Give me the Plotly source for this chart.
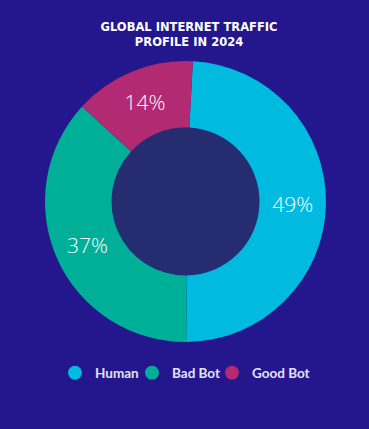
import plotly.graph_objects as go

# Data
labels = ["Human", "Bad Bot", "Good Bot"]
values = [49, 37, 14]
colors = ["#00BAE0", "#00AF98", "#B12A72"]
title_text = "GLOBAL INTERNET TRAFFIC<br>PROFILE IN 2024"

W, H = 369, 429
cx, cy, R, r_in = 185.5, 201.5, 140.5, 74.0
legend_symbol_px = [75, 152, 232]  # horizontal placement of each legend entry

fig = go.Figure()

# hole fill (drawn as a single-slice pie behind)
fig.add_trace(go.Pie(
    values=[1], labels=["hole"], marker=dict(colors=["#252C70"], line=dict(width=0)),
    domain=dict(x=[(cx - r_in) / W, (cx + r_in) / W], y=[1 - (cy + r_in) / H, 1 - (cy - r_in) / H]),
    textinfo="none", hoverinfo="skip", showlegend=False, sort=False,
))

fig.add_trace(go.Pie(
    labels=labels, values=values,
    marker=dict(colors=colors, line=dict(width=0)),
    hole=r_in / R, sort=False, direction="clockwise", rotation=3,
    domain=dict(x=[(cx - R) / W, (cx + R) / W], y=[1 - (cy + R) / H, 1 - (cy - R) / H]),
    texttemplate="%{value}%", textposition="inside", insidetextorientation="horizontal",
    textfont=dict(family="Open Sans", size=21, color="#FFFFFF", weight=300),
    showlegend=False, hoverinfo="label+percent",
))

legend_font = dict(family="Lato", size=13.5, color="#E4E2F4", weight="bold")
legend_layouts = {}
for i, (lab, col) in enumerate(zip(labels, colors)):
    lname = "legend" if i == 0 else f"legend{i + 1}"
    fig.add_trace(go.Scatter(
        x=[None], y=[None], mode="markers", name=lab, legend=lname,
        marker=dict(symbol="circle", size=14, color=col),
    ))
    legend_layouts[lname] = dict(
        orientation="h", x=(legend_symbol_px[i] - 20) / W, xanchor="left",
        y=1 - 373 / H, yanchor="middle", font=legend_font,
        itemwidth=30, bgcolor="rgba(0,0,0,0)", borderwidth=0,
    )

fig.update_layout(
    width=W, height=H,
    margin=dict(l=0, r=0, t=0, b=0),
    paper_bgcolor="#24178E", plot_bgcolor="rgba(0,0,0,0)",
    xaxis=dict(visible=False), yaxis=dict(visible=False),
    title=dict(
        text=title_text, x=189 / W, xanchor="center", y=1 - 31 / H, yanchor="top",
        font=dict(family="DejaVu Sans", size=11.5, color="#FFFFFF", weight="bold"),
    ),
    showlegend=True,
    **legend_layouts,
)

fig.write_html(
    "out.html",
    config={"displayModeBar": False},
    post_script="document.body.style.margin='0';document.body.style.overflow='hidden';",
)
